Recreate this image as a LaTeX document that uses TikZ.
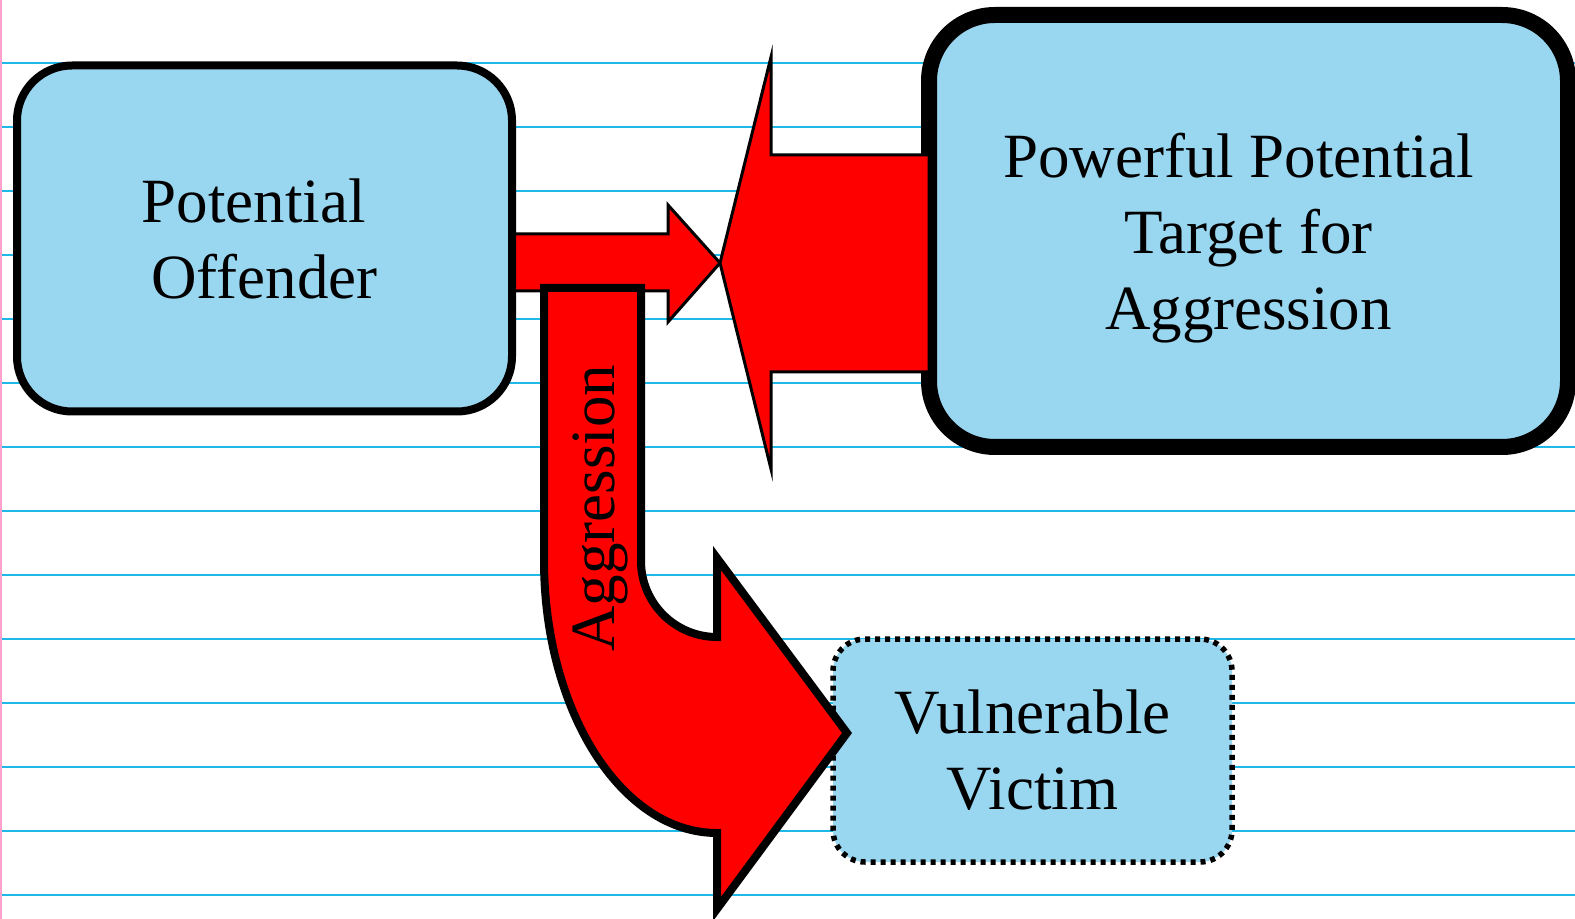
\documentclass[tikz,border=0pt]{standalone}
\usepackage{fontspec}
\setmainfont{Liberation Serif}
\definecolor{boxblue}{RGB}{153,214,240}
\definecolor{ruleblue}{RGB}{30,185,230}
\definecolor{marginpink}{RGB}{255,160,205}
\begin{document}
\begin{tikzpicture}[x=0.5pt,y=-0.5pt,
  ruleline/.style={draw=ruleblue, line width=0.7pt},
  box/.style={draw=black, fill=boxblue, align=center, inner sep=0pt,
    font=\fontsize{31.5pt}{38pt}\selectfont},
  solidbox/.style={box, line width=4pt, rounded corners=27.5pt},
  heavybox/.style={box, line width=8pt, rounded corners=33pt},
  dotbox/.style={box, line width=2.75pt, dash pattern=on 2.5pt off 2.5pt, rounded corners=16pt},
  thinarrow/.style={draw=black, fill=red, line width=1.5pt, line join=miter},
  bigarrow/.style={draw=black, fill=red, line width=4pt, line join=miter},
  arrowlabel/.style={font=\fontsize{31.5pt}{38pt}\selectfont, inner sep=0pt}]
\useasboundingbox (0,0) rectangle (1575,919);
\fill[white] (0,0) rectangle (1575,919);
% ruled paper
\foreach \yy in {63,127,...,895} \draw[ruleline] (0,\yy) -- (1575,\yy);
\draw[marginpink, line width=1.25pt] (1,0) -- (1,919);
% arrow from offender towards powerful target
\coordinate (tip) at (720,263);
\draw[thinarrow] (510,234) -- (668,234) -- (668,205) -- (tip) -- (668,322) -- (668,291) -- (510,291) -- cycle;
% boxes
\node[solidbox, minimum width=247.5pt, minimum height=173pt] (off) at (264.5,238.5)
  {Potential\hspace*{11pt}\\Offender};
\node[heavybox, minimum width=319.5pt, minimum height=216pt] (pow) at (1248.5,231)
  {Powerful Potential\hspace*{10pt}\\Target for\hspace*{3.5pt}\\\raisebox{0pt}[\height][0pt]{Aggression}};
% arrow from powerful target back
\draw[thinarrow] (tip) -- (771,57) -- (771,155) -- (929,155) -- (929,372) -- (771,372) -- (771,469) -- cycle;
% vulnerable victim
\node[dotbox, minimum width=199.5pt, minimum height=111.5pt] (vic) at (1032.5,750.5)
  {Vulnerable\\Victim};
% curved aggression arrow
\coordinate (vtip) at (847,733);
\draw[bigarrow] (544,288) -- (641,288) -- (641,561)
  .. controls (641,603) and (675,637) .. (717,637)
  -- (717,558) -- (vtip) -- (717,909) -- (717,833)
  .. controls (621.5,833) and (544,711) .. (544,560) -- cycle;
\node[arrowlabel, rotate=90] (agg) at (600,508) {Aggression};
\end{tikzpicture}
\end{document}
